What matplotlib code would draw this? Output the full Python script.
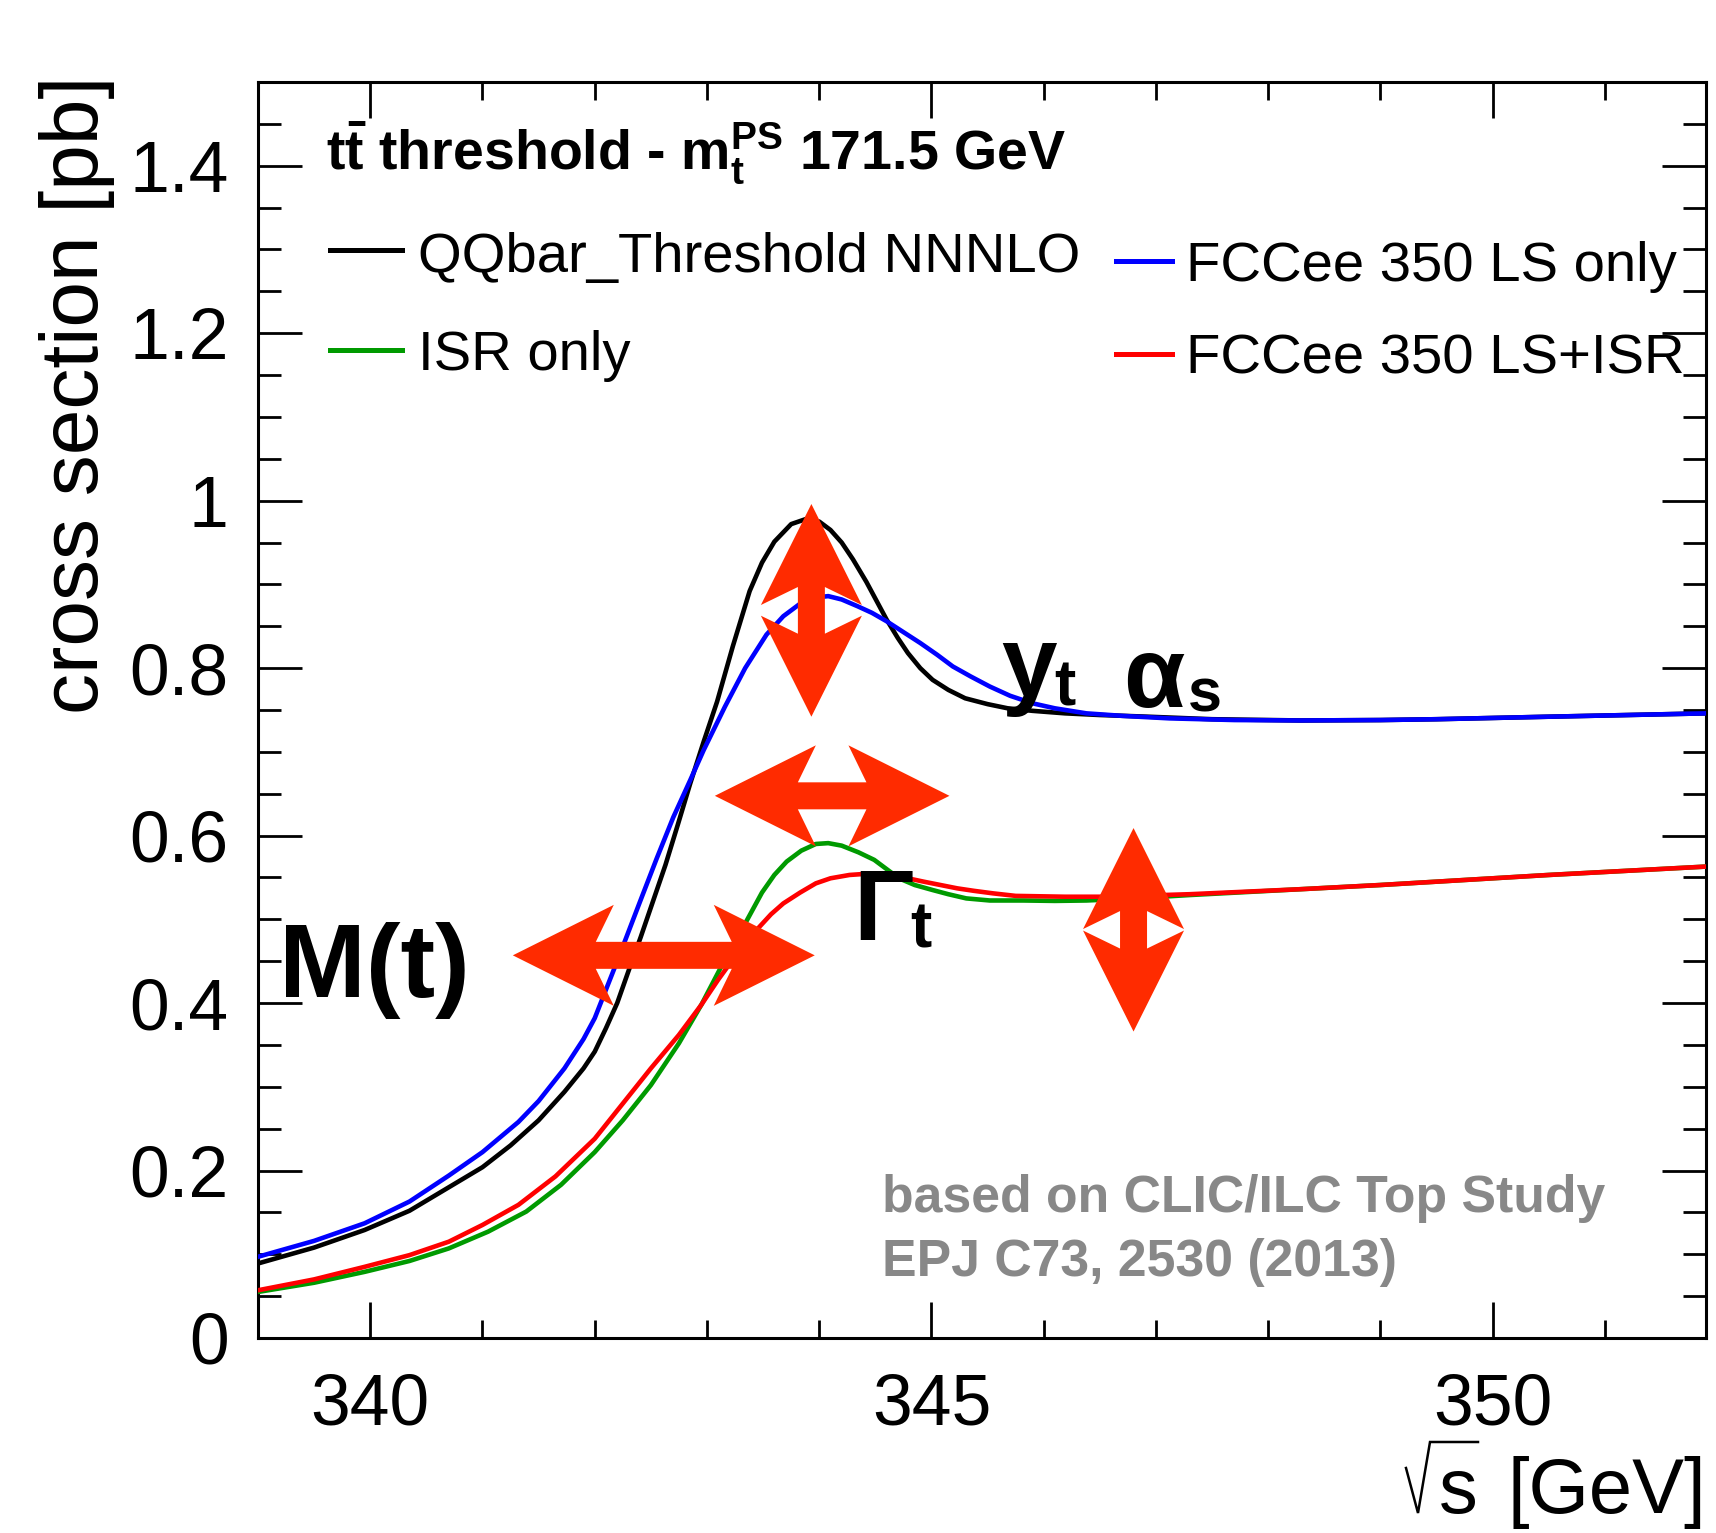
import numpy as np
import matplotlib.pyplot as plt
from matplotlib.lines import Line2D
from matplotlib.patches import Polygon

plt.rcParams['font.family'] = ['Liberation Sans', 'DejaVu Sans']
plt.rcParams['mathtext.fontset'] = 'custom'
plt.rcParams['mathtext.rm'] = 'Liberation Sans'
plt.rcParams['mathtext.bf'] = 'Liberation Sans:bold'
plt.rcParams['mathtext.it'] = 'Liberation Sans:italic'

# --- curves (sqrt(s) in GeV, cross section in pb) ---
e_nnnlo = [339.0, 339.5, 339.95, 340.35, 340.7, 341.0, 341.25, 341.5, 341.73, 341.9,
           342.0, 342.1, 342.2, 342.3, 342.41, 342.52, 342.63, 342.74, 342.85, 342.97,
           343.09, 343.23, 343.38, 343.49, 343.6, 343.75, 343.88, 344.0, 344.1, 344.2,
           344.3, 344.42, 344.52, 344.6, 344.7, 344.79, 344.9, 345.01, 345.15, 345.3,
           345.5, 345.68, 345.9, 346.19, 346.5, 346.93, 347.5, 348.29, 349.0, 349.5,
           350.5, 351.2, 351.9]
xs_nnnlo = [0.089, 0.108, 0.129, 0.152, 0.180, 0.204, 0.230, 0.260, 0.294, 0.322,
            0.342, 0.370, 0.400, 0.438, 0.479, 0.522, 0.565, 0.613, 0.662, 0.712,
            0.760, 0.826, 0.892, 0.926, 0.951, 0.972, 0.978, 0.975, 0.965, 0.950,
            0.930, 0.903, 0.878, 0.858, 0.836, 0.818, 0.800, 0.786, 0.774, 0.764,
            0.757, 0.752, 0.749, 0.746, 0.744, 0.742, 0.739, 0.7375, 0.738, 0.739,
            0.742, 0.744, 0.746]

e_ls = [339.0, 339.5, 339.95, 340.35, 340.7, 341.0, 341.32, 341.5, 341.73, 341.9,
        342.0, 342.2, 342.4, 342.55, 342.7, 342.85, 342.97, 343.16, 343.34, 343.53,
        343.68, 343.83, 343.95, 344.08, 344.2, 344.34, 344.47, 344.6, 344.75, 344.9,
        345.05, 345.19, 345.35, 345.52, 345.7, 345.9, 346.1, 346.38, 346.7, 347.12,
        347.7, 348.29, 349.0, 349.5, 350.5, 351.2, 351.9]
xs_ls = [0.097, 0.116, 0.137, 0.163, 0.194, 0.222, 0.258, 0.283, 0.322, 0.357,
         0.382, 0.450, 0.520, 0.572, 0.622, 0.666, 0.702, 0.754, 0.800, 0.840,
         0.862, 0.877, 0.884, 0.886, 0.882, 0.874, 0.866, 0.856, 0.843, 0.830,
         0.816, 0.802, 0.790, 0.778, 0.767, 0.758, 0.752, 0.746, 0.743, 0.740,
         0.738, 0.7375, 0.738, 0.739, 0.742, 0.744, 0.746]

e_isr = [339.0, 339.5, 339.95, 340.35, 340.7, 341.05, 341.39, 341.7, 342.0, 342.25,
         342.5, 342.75, 342.95, 343.16, 343.34, 343.49, 343.6, 343.71, 343.84, 343.97,
         344.08, 344.2, 344.35, 344.49, 344.6, 344.71, 344.85, 345.01, 345.15, 345.31,
         345.52, 345.82, 346.1, 346.38, 346.8, 347.3, 348.29, 349.0, 349.5, 350.5,
         351.2, 351.9]
xs_isr = [0.055, 0.066, 0.079, 0.092, 0.107, 0.127, 0.151, 0.183, 0.222, 0.260,
          0.302, 0.352, 0.398, 0.452, 0.495, 0.532, 0.553, 0.569, 0.582, 0.590,
          0.591, 0.588, 0.580, 0.571, 0.560, 0.549, 0.541, 0.535, 0.530, 0.525,
          0.5225, 0.5225, 0.522, 0.5225, 0.525, 0.529, 0.536, 0.541, 0.545, 0.553,
          0.558, 0.563]

e_ls_isr = [339.0, 339.5, 339.95, 340.35, 340.7, 341.0, 341.32, 341.65, 342.0, 342.25,
            342.5, 342.75, 342.95, 343.1, 343.23, 343.36, 343.46, 343.57, 343.68, 343.83,
            343.97, 344.1, 344.27, 344.49, 344.64, 344.79, 344.93, 345.08, 345.23, 345.38,
            345.55, 345.75, 346.19, 346.56, 347.3, 348.29, 349.0, 349.5, 350.5, 351.2,
            351.9]
xs_ls_isr = [0.057, 0.070, 0.085, 0.099, 0.115, 0.135, 0.159, 0.193, 0.238, 0.280,
             0.322, 0.362, 0.398, 0.428, 0.452, 0.474, 0.490, 0.506, 0.519, 0.532,
             0.543, 0.549, 0.553, 0.555, 0.553, 0.549, 0.545, 0.541, 0.537, 0.534,
             0.531, 0.528, 0.527, 0.527, 0.530, 0.536, 0.541, 0.545, 0.553, 0.558,
             0.563]

# double arrows: (start, end) in data coordinates
arrow_peak = ((343.93, 0.996), (343.93, 0.742))
arrow_width = ((343.07, 0.6475), (345.16, 0.6475))
arrow_mass = ((341.27, 0.457), (343.96, 0.457))
arrow_yukawa = ((346.80, 0.609), (346.80, 0.366))

x_major = [340, 345, 350]
y_major = [0, 0.2, 0.4, 0.6, 0.8, 1.0, 1.2, 1.4]
y_ticklabels = ['0', '0.2', '0.4', '0.6', '0.8', '1', '1.2', '1.4']

ARROW_COLOR = '#ff2b00'
GREEN = '#009a00'
LW = 3.3

W, H, DPI = 1716, 1533, 100


def fx(px):
    return px / W


def fy(py):
    return 1 - py / H


def double_arrow(ax, start, end, color=ARROW_COLOR):
    # fat ROOT-style double arrow, built in pixels then mapped back to data
    tr = ax.transData
    p0 = np.array(tr.transform(start))
    p1 = np.array(tr.transform(end))
    u = (p1 - p0) / np.linalg.norm(p1 - p0)
    n = np.array([-u[1], u[0]])
    L, hw, N, sw = 101, 50.5, 83, 13.5
    pts = [p0, p0 + L * u + hw * n, p0 + N * u + sw * n,
           p1 - N * u + sw * n, p1 - L * u + hw * n, p1,
           p1 - L * u - hw * n, p1 - N * u - sw * n,
           p0 + N * u - sw * n, p0 + L * u - hw * n]
    pts = tr.inverted().transform(np.array(pts))
    ax.add_patch(Polygon(pts, closed=True, facecolor=color, edgecolor='none', zorder=6))


fig = plt.figure(figsize=(W / DPI, H / DPI), dpi=DPI)
ax = fig.add_axes([258 / W, 1 - 1338 / H, 1448 / W, 1256 / H])
ax.set_xlim(339, 351.9)
ax.set_ylim(0, 1.5)

ax.plot(e_nnnlo, xs_nnnlo, color='black', lw=LW, zorder=3)
ax.plot(e_ls, xs_ls, color='#0000ff', lw=LW, zorder=3)
ax.plot(e_isr, xs_isr, color=GREEN, lw=LW, zorder=3)
ax.plot(e_ls_isr, xs_ls_isr, color='#ff0000', lw=LW, zorder=3)

for a in (arrow_peak, arrow_width, arrow_mass, arrow_yukawa):
    double_arrow(ax, *a)

# axes, ticks
ax.set_xticks(x_major)
ax.set_xticks(np.arange(339, 352, 1), minor=True)
ax.set_yticks(y_major)
ax.set_yticklabels(y_ticklabels)
ax.set_yticks(np.arange(0, 1.51, 0.05), minor=True)
ax.tick_params(which='both', direction='in', top=True, right=True, width=2)
ax.tick_params(axis='x', which='major', length=26, labelsize=51.5, pad=25)
ax.tick_params(axis='x', which='minor', length=13)
ax.tick_params(axis='y', which='major', length=32, labelsize=51.5, pad=21)
ax.tick_params(axis='y', which='minor', length=16.5)
for sp in ax.spines.values():
    sp.set_linewidth(2.2)

# x title: sqrt(s) [GeV], radical drawn by hand like ROOT's #sqrt
xt_base = 1513
fig.text(fx(1706), fy(xt_base), '[GeV]', fontsize=56, ha='right', va='baseline')
fig.text(fx(1478), fy(xt_base), 's', fontsize=56, ha='right', va='baseline')
rad_x = [1406, 1418, 1430, 1478]
rad_y = [xt_base - 45, xt_base, xt_base - 71, xt_base - 71]
fig.add_artist(Line2D([fx(v) for v in rad_x], [fy(v) for v in rad_y],
                      color='black', lw=1.8, solid_joinstyle='miter'))

fig.text(fx(77), fy(76), 'cross section [pb]', fontsize=59, rotation=90,
         ha='center', va='top')

# header and legend
fig.text(fx(326), fy(170),
         r'$\mathbf{t\bar{t}}$ threshold - $\mathbf{m}_\mathbf{t}^\mathbf{PS}$ 171.5 GeV',
         fontsize=40, fontweight='bold', ha='left', va='baseline')

legend_left = [('QQbar_Threshold NNNLO', 'black', 250, 272),
               ('ISR only', GREEN, 350, 370)]
legend_right = [('FCCee 350 LS only', '#0000ff', 261, 281),
                ('FCCee 350 LS+ISR', '#ff0000', 354, 373)]
for label, col, yl, yb in legend_left:
    fig.add_artist(Line2D([fx(330), fx(402)], [fy(yl), fy(yl)], color=col, lw=3.6))
    fig.text(fx(418), fy(yb), label, fontsize=40.5, ha='left', va='baseline')
for label, col, yl, yb in legend_right:
    fig.add_artist(Line2D([fx(1116), fx(1172)], [fy(yl), fy(yl)], color=col, lw=3.6))
    fig.text(fx(1186), fy(yb), label, fontsize=40.5, ha='left', va='baseline')

# big physics labels
fig.text(fx(279), fy(997), 'M(t)', fontsize=75, fontweight='bold', va='baseline', zorder=7)
fig.text(fx(853), fy(940), 'Γ', fontsize=72, fontweight='bold', va='baseline', zorder=7)
fig.text(fx(910), fy(947), 't', fontsize=46, fontweight='bold', va='baseline', zorder=7)
fig.text(fx(1001), fy(696), 'y', fontsize=72, fontweight='bold', va='baseline', zorder=7)
fig.text(fx(1054), fy(705), 't', fontsize=46, fontweight='bold', va='baseline', zorder=7)
fig.text(fx(1123), fy(707), 'α', fontsize=72, fontweight='bold', va='baseline', zorder=7)
fig.text(fx(1188), fy(712), 's', fontsize=44, fontweight='bold', va='baseline', zorder=7)

fig.text(fx(882), fy(1212), 'based on CLIC/ILC Top Study', fontsize=37.3,
         fontweight='bold', color='#888888', va='baseline')
fig.text(fx(882), fy(1276), 'EPJ C73, 2530 (2013)', fontsize=37.3,
         fontweight='bold', color='#888888', va='baseline')

fig.savefig('out.png', dpi=DPI)
